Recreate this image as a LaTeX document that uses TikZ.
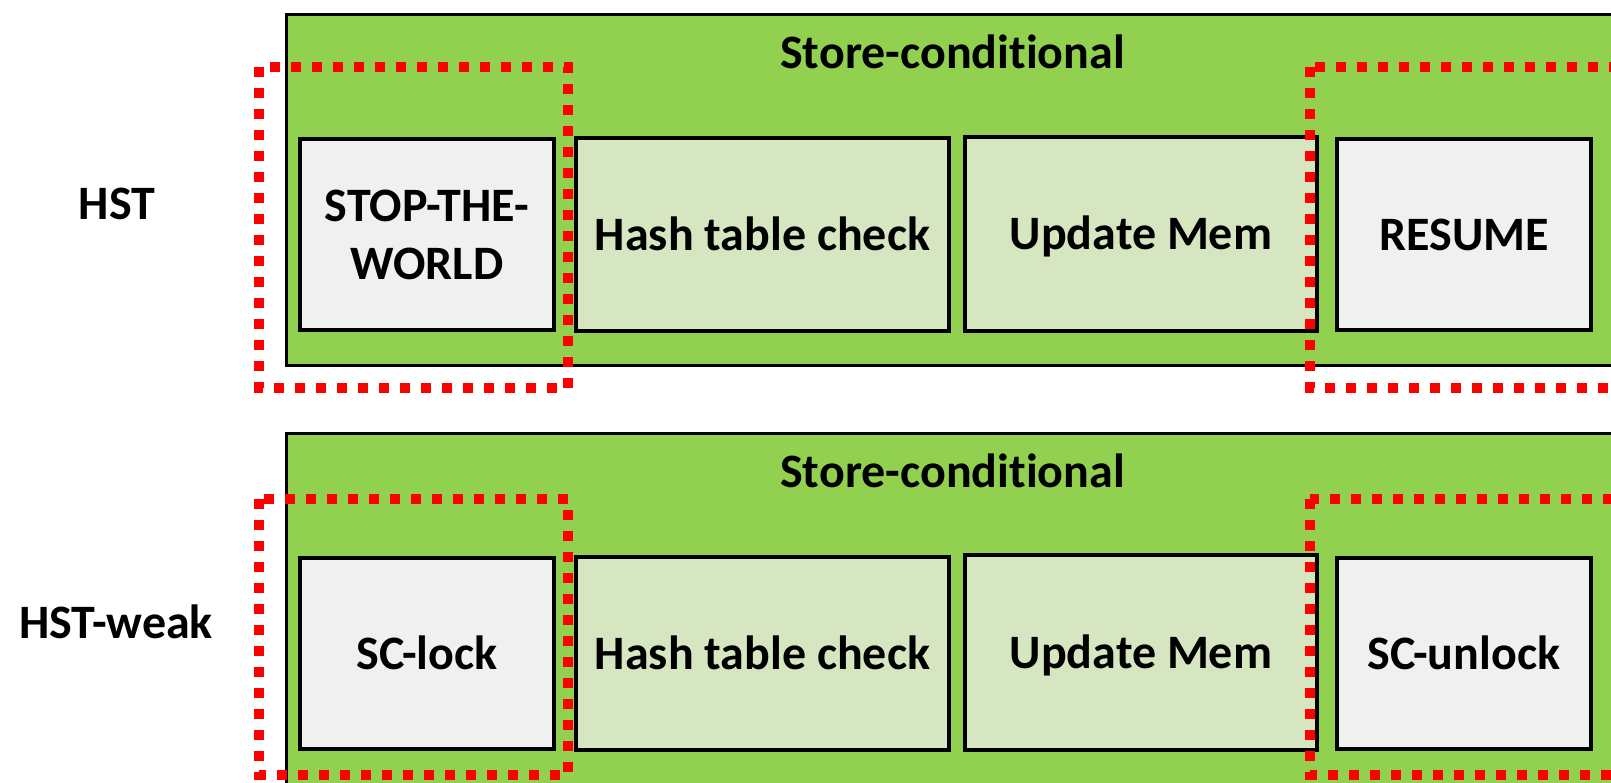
\documentclass[tikz,border=0pt]{standalone}
\usepackage{fontspec}
\setmainfont{Carlito}[Ligatures=CommonOff]
\definecolor{outergreen}{HTML}{92D050}
\definecolor{palegreen}{HTML}{D6E6C1}
\definecolor{greybox}{HTML}{F0F0F0}
\begin{document}
\begin{tikzpicture}[x=1pt,y=-1pt,
  every node/.style={outer sep=0pt},
  bigfont/.style={font=\fontsize{48}{58}\selectfont\bfseries},
  container/.style={draw=black,line width=3pt,fill=outergreen,anchor=north west,inner sep=0pt},
  stepbox/.style={draw=black,line width=4pt,fill=palegreen,inner sep=0pt,bigfont,
    text height=31pt,text depth=0pt},
  lockbox/.style={draw=black,line width=4pt,fill=greybox,inner sep=0pt,bigfont,
    text height=31pt,text depth=0pt},
  twoline/.style={draw=black,line width=4pt,fill=greybox,inner sep=0pt,bigfont,align=center},
  lbl/.style={bigfont,inner sep=0pt,anchor=base},
  redbox/.style={draw=red,line width=9.5pt,dash pattern=on 10pt off 11pt}]
\useasboundingbox (0,0) rectangle (1611,782);
\clip (0,0) rectangle (1611,782);
% containers
\node[container,minimum width=1413.5pt,minimum height=351pt] (row1) at (286.5,14.5) {};
\node[container,minimum width=1413.5pt,minimum height=416.5pt] (row2) at (286.5,433.5) {};
% titles
\node[lbl] (sc1) at (952.5,68) {Store-conditional};
\node[lbl] (sc2) at (952.5,487) {Store-conditional};
\node[lbl] (hst) at (117,219) {HST};
\node[lbl] (hstw) at (116,638) {HST-weak};
% row 1 boxes
\node[twoline,minimum width=254pt,minimum height=191pt] (stw) at (427,234.5) {STOP-THE-\\WORLD};
\node[stepbox,minimum width=373pt,minimum height=193pt] (hash1) at (762.5,234.5) {Hash table check};
\node[stepbox,minimum width=352pt,minimum height=194pt] (upd1) at (1141,234) {Update Mem};
\node[lockbox,minimum width=254pt,minimum height=191pt] (res) at (1464,234.5) {RESUME};
% row 2 boxes
\node[lockbox,minimum width=254pt,minimum height=191pt] (lock) at (427,653.5) {SC-lock};
\node[stepbox,minimum width=373pt,minimum height=193pt] (hash2) at (762.5,653.5) {Hash table check};
\node[stepbox,minimum width=352pt,minimum height=195pt] (upd2) at (1141,652.5) {Update Mem};
\node[lockbox,minimum width=254pt,minimum height=191pt] (unlock) at (1464,653.5) {SC-unlock};
% red dotted frames
\draw[redbox] (259,67) rectangle (568,388);
\draw[redbox] (1310,67) rectangle (1700,388);
\draw[redbox] (259,499) rectangle (568,775);
\draw[redbox] (1310,499) rectangle (1700,775);
\end{tikzpicture}
\end{document}
